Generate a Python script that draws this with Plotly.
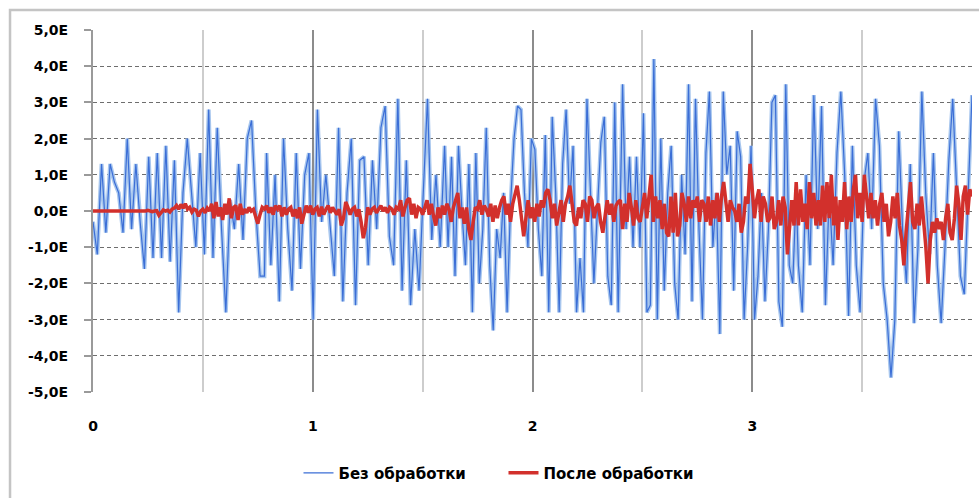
import numpy as np
import plotly.graph_objects as go

# ---- data ----
# blue series ("Без обработки"), in five time segments
seg_bounds = [(0.00, 0.78), (0.79, 1.58), (1.60, 2.39), (2.41, 3.20), (3.21, 4.00)]
blue_seg1 = [-0.3, -1.2, 1.3, -0.6, 1.3, 0.8, 0.5, -0.6, 2.0, -0.5, 1.3, -0.3, -1.6, 1.5, -1.3, 1.6,
             -1.3, 1.8, -1.4, 1.4, -2.8, 0.5, 2.0, 0.5, -1.0, 1.6, -1.2, 2.8, -1.3, 2.3, -0.5, -2.8,
             0.3, -0.5, 1.3, -0.8, 2.0, 2.5, 0.0, -1.8, -1.8]
blue_seg2 = [1.6, -1.5, 1.0, -2.5, 2.0, -0.5, -2.2, 1.6, -1.6, 1.0, 1.6, -3.0, 2.8, -0.3, 1.0, -0.5,
             -1.8, 2.3, -2.5, 0.5, 2.0, -2.6, 1.4, 1.5, -1.5, 1.4, -0.5, 2.3, 2.9, -0.7, -1.5, 3.1,
             -2.2, 1.4, -2.6, -0.5, -2.2, 0.5, 3.1, -0.8, 1.0, -1.0]
blue_seg3 = [1.8, -1.0, 1.5, -1.8, 1.8, 0.0, -1.5, 1.3, -2.8, 1.6, -2.0, -0.5, 2.3, -1.5, -3.3, -0.5,
             -1.3, 0.5, -2.8, 0.2, 2.0, 2.9, 2.8, 0.5, -1.0, 2.0, 1.7, -0.5, -1.8, 2.1, -2.8, 2.6,
             0.5, -2.8, 1.3, 2.8, 0.2, 1.8, -2.8, -1.3, -2.8, 3.1, 0.5, -2.0, 0.0, 1.9, 2.6, -1.8,
             -2.6, 3.0, -2.8]
blue_seg4 = [3.5, -0.5, 1.5, -1.0, 1.5, -1.0, 2.7, -2.8, -2.6, 4.2, -3.0, 2.0, -2.2, 0.5, 1.8, -2.0,
             -3.0, 1.0, -1.2, 3.5, -2.5, 3.1, -0.5, -3.0, 1.6, 3.3, -1.0, 0.5, -3.4, 3.3, 1.0, 1.8,
             -2.2, 2.2, 1.5, -3.0, -1.0, 1.8, -3.0, -1.8, 0.5, -2.5, -0.5, 3.0, 3.2, -2.5, -3.2, 3.5,
             -1.5, -2.0, 0.5]
blue_seg5 = [-1.5, -2.8, 1.0, -1.5, 3.2, -0.5, 2.9, -2.6, 0.5, -1.5, 1.6, 3.3, 1.0, -2.9, 1.8, -1.5,
             -2.8, 0.8, 1.6, -0.5, 3.1, 1.8, -2.0, -3.0, -4.6, -3.0, 2.2, -0.5, -2.0, 1.3, -3.1, -1.0,
             3.3, 0.5, -1.2, 1.6, -1.5, -3.1, -1.0, 1.4, 3.1, 0.5, -1.8, -2.3, 0.3, 3.2]
blue_segments = [blue_seg1, blue_seg2, blue_seg3, blue_seg4, blue_seg5]

# red series ("После обработки"), sampled every 0.01
red_step = 0.01
red_values = [
    0, 0, 0.01, 0, -0.01, 0, 0.01, 0, 0, 0.01,
    0, -0.01, 0, 0.01, 0, 0, -0.01, 0, 0.01, 0,
    0, 0.01, 0, -0.01, 0, 0.02, 0, -0.02, 0, 0.01,
    -0.12, -0.05, 0.03, 0, 0.02, -0.03, 0.05, 0.08, 0.15, 0.05,
    0.18, 0.08, 0.2, 0.05, 0.1, -0.03, 0.05, 0.02, -0.15, 0,
    0.05, -0.05, 0.08, 0, 0.2, -0.2, 0.25, -0.15, 0.1, -0.25,
    0.2, -0.1, 0.35, -0.2, 0.1, 0.15, -0.25, 0.2, -0.1, 0.05,
    -0.05, 0.1, 0, 0.05, -0.15, -0.35, -0.1, 0.1, 0.05, 0.15,
    -0.05, 0.1, -0.1, 0.15, 0.05, 0.15, -0.15, 0.1, -0.1, 0.05,
    0.1, -0.15, 0.05, -0.2, 0.1, -0.35, -0.1, 0.15, -0.05, 0.15,
    -0.1, 0.05, 0.1, -0.15, 0.12, -0.1, 0.05, 0.15, -0.05, 0.1,
    0, -0.1, 0.05, -0.4, -0.2, 0.25, 0.1, -0.1, 0.05, 0.1,
    -0.15, 0.05, -0.3, -0.75, -0.45, 0.1, -0.1, 0.05, 0.1, -0.05,
    0.05, 0.15, 0, 0.1, -0.05, 0.1, 0.05, -0.1, 0.1, 0.05,
    0.3, -0.15, 0.1, 0.3, 0.35, -0.1, 0.2, -0.2, 0.1, 0.05,
    -0.1, 0.15, 0.3, -0.1, 0.2, -0.15, -0.4, 0.1, -0.2, 0.15,
    -0.1, 0.2, 0.05, -0.3, 0.1, 0.3, 0.5, -0.2, 0.1, -0.35,
    0.1, -0.5, -0.8, -0.3, 0.1, 0.05, 0.3, -0.1, 0.15, 0.05,
    -0.15, 0.2, -0.3, 0.15, -0.2, 0.1, 0.3, 0.4, -0.1, 0.2,
    -0.3, 0.2, 0.45, 0.7, 0.3, -0.3, -0.7, -0.2, 0.3, -0.2,
    0.1, -0.3, 0.2, -0.15, 0.3, 0.1, 0.5, 0.6, 0.3, -0.2,
    0.2, -0.4, -0.1, 0.3, -0.3, 0.2, 0.4, 0.7, 0.2, -0.3,
    -0.4, 0.1, -0.2, 0.3, 0.2, -0.3, 0.4, 0.3, -0.2, 0.1,
    0.2, -0.3, -0.6, -0.2, 0.3, -0.1, 0.2, -0.3, 0.15, 0.25,
    0.3, -0.5, 0.2, -0.3, 0.5, 0.1, -0.4, 0.3, -0.2, -0.3,
    0.2, 0.5, -0.2, 0.3, 1.0, -0.3, 0.4, -0.2, 0.3, -0.5,
    0.2, -0.6, -0.7, 0.4, -0.6, 0.5, -0.7, -0.4, 0.5, 0.2,
    -0.3, 0.4, -0.2, 0.3, 0.1, 0.4, -0.3, 0.3, 0.2, -0.3,
    0.4, -0.4, 0.3, -0.2, 0.5, -0.3, 0.4, 0.8, 0.2, -0.3,
    0.3, 0.1, 0, -0.3, 0.2, -0.6, -0.3, 0.4, 0.2, 1.3,
    0.6, -0.2, 0.3, 0.6, -0.3, 0.4, 0.2, -0.3, -0.2, 0.4,
    -0.5, -0.3, 0.3, -0.4, 0.4, 0.1, -1.2, -0.5, 0.3, -0.4,
    0.8, -0.4, 0.6, -0.3, 0.2, -0.5, 0.8, -0.2, 0.5, -0.4,
    0.3, -0.4, 0.7, -0.3, 0.8, -0.2, 1.0, -0.4, 0.4, -0.8,
    0.3, -0.3, 0.8, -0.5, 0.4, -0.3, 0.6, 1.0, -0.2, 0.5,
    -0.3, 1.0, 0.4, -0.2, 0.5, -0.2, 0.3, -0.4, 0.2, 0.5,
    -0.3, 0.2, -0.7, -0.3, 0.4, -0.2, 0.5, -0.4, -0.8, -1.5,
    -0.6, 0.2, 0.8, -0.3, -0.5, 0.2, -0.4, 0.4, -0.3, -1.0,
    -2.0, -0.8, -0.3, -0.6, -0.2, -0.5, -0.3, -0.8, -0.2, 0.2,
    -0.6, -0.8, -0.2, 0.7, 0.2, -0.8, 0.4, 0.7, -0.1, 0.6,
    0.4,
]

y_ticks = [-5, -4, -3, -2, -1, 0, 1, 2, 3, 4, 5]
y_ticktext = ["-5,0E", "-4,0E", "-3,0E", "-2,0E", "-1,0E", "0,0E",
              "1,0E", "2,0E", "3,0E", "4,0E", "5,0E"]
x_ticks = [0, 1, 2, 3, 4]
x_ticktext = ["0", "1", "2", "3", ""]

# ---- build time axes ----
blue_t, blue_y = [], []
for (a, b), seg in zip(seg_bounds, blue_segments):
    blue_t.extend(np.linspace(a, b, len(seg)).tolist())
    blue_y.extend(seg)
red_t = (np.arange(len(red_values)) * red_step).tolist()

FONT = "DejaVu Sans"

fig = go.Figure()
fig.add_trace(go.Scatter(x=blue_t, y=blue_y, mode="lines", showlegend=False, hoverinfo="skip",
                         line=dict(color="#A7C6EE", width=4)))
fig.add_trace(go.Scatter(x=blue_t, y=blue_y, mode="lines", name="Без обработки",
                         line=dict(color="#3B6ED6", width=1.2)))
fig.add_trace(go.Scatter(x=red_t, y=red_values, mode="lines", name="После обработки",
                         line=dict(color="#D2302C", width=3.5)))

fig.update_layout(
    width=979, height=498,
    margin=dict(l=93, r=7, t=30, b=106, autoexpand=False),
    paper_bgcolor="white", plot_bgcolor="white",
    font=dict(family=FONT, size=12, color="black"),
    legend=dict(orientation="h", x=0.467, y=-0.224, xanchor="center", yanchor="middle",
                font=dict(family=FONT, size=15, color="black", weight="bold"),
                bgcolor="rgba(0,0,0,0)", itemwidth=30,
                entrywidth=160, entrywidthmode="pixels"),
    shapes=[dict(type="rect", xref="paper", yref="paper",
                 x0=-0.0944, x1=1.02, y0=-0.32, y1=1.0552,
                 line=dict(color="#C4C4C4", width=2.5), fillcolor="rgba(0,0,0,0)", layer="below")],
)
fig.update_xaxes(
    range=[0, 4], tickmode="array", tickvals=x_ticks, ticktext=x_ticktext,
    showgrid=True, gridcolor="#8C8C8C", gridwidth=2,
    minor=dict(dtick=0.5, tick0=0, showgrid=True, gridcolor="#CDCDCD", gridwidth=2),
    zeroline=False, showline=False, ticks="", automargin=False,
    tickfont=dict(family=FONT, size=14, color="black", weight="bold"),
    ticklabelstandoff=24,
)
fig.update_yaxes(
    range=[-5, 5], tickmode="array", tickvals=y_ticks, ticktext=y_ticktext,
    showgrid=True, gridcolor="#6E6E6E", gridwidth=1, griddash="4px,3px",
    zeroline=False, showline=True, linecolor="#9A9A9A", linewidth=2,
    ticks="outside", ticklen=7, tickcolor="#9A9A9A", tickwidth=1.5, automargin=False,
    tickfont=dict(family=FONT, size=14, color="black", weight="bold"),
    ticklabelstandoff=13,
)

fig.write_html("out.html", config={"displayModeBar": False},
               post_script="document.body.style.margin='0px';")
